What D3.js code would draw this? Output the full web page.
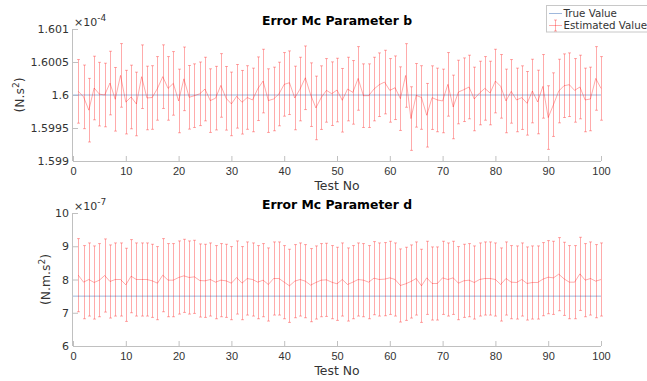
<!DOCTYPE html>
<html><head><meta charset="utf-8">
<script src="https://cdn.jsdelivr.net/npm/d3@7/dist/d3.min.js"></script>
<style>body{margin:0;background:#fff}svg{display:block;font-family:"DejaVu Sans",sans-serif}</style>
</head><body><svg id="c" width="647" height="381"></svg>
<script>
// ---- data (mantissa units) ----
const testNo = d3.range(1, 101);
const xTicks = [0,10,20,30,40,50,60,70,80,90,100];
// Parameter b (x1e-4)
const trueB = 1.6;
const estB = [1.600055,1.599972,1.599770,1.600106,1.600013,1.600000,1.600181,1.599935,1.600297,1.599892,
1.599970,1.599864,1.600277,1.599955,1.599962,1.600100,1.600278,1.600100,1.600176,1.599910,
1.600245,1.599965,1.599990,1.600018,1.600090,1.599915,1.599952,1.600145,1.599950,1.599865,
1.599980,1.599890,1.599962,1.599925,1.600095,1.600211,1.599915,1.599940,1.600015,1.600161,
1.600186,1.599955,1.600090,1.600261,1.600005,1.599804,1.599960,1.600070,1.600020,1.600075,
1.599920,1.600090,1.600040,1.600251,1.599990,1.599990,1.600090,1.600156,1.600196,1.600070,
1.600110,1.599945,1.600296,1.599643,1.599995,1.599962,1.599693,1.599960,1.599925,1.599910,
1.600161,1.599819,1.600045,1.600080,1.600121,1.599940,1.600030,1.600100,1.600030,1.600211,
1.600131,1.599910,1.600055,1.599925,1.599960,1.599874,1.600060,1.599894,1.600131,1.599658,
1.599854,1.600060,1.600141,1.600156,1.600070,1.600121,1.599925,1.599940,1.600251,1.600100];
const errB = 0.000482;
const yTicksB = [1.599,1.5995,1.6,1.6005,1.601];
const yTickLabelsB = ["1.599","1.5995","1.6","1.6005","1.601"];
// Parameter d (x1e-7)
const trueD = 7.5;
const estD = [8.13,7.92,8.00,7.91,7.98,8.12,7.94,8.00,8.00,7.84,
8.10,8.00,8.00,8.00,7.96,7.89,8.13,7.98,7.98,8.06,
8.11,8.06,8.08,7.97,7.96,8.00,7.92,7.98,7.96,7.89,
8.06,7.89,8.03,8.00,7.92,7.98,7.85,8.03,8.03,7.92,
7.81,7.95,8.00,7.95,7.83,7.91,7.98,7.99,7.92,7.87,
8.00,7.85,7.92,8.00,7.98,7.92,8.04,8.00,8.01,8.05,
8.00,7.82,7.87,7.94,8.03,7.81,8.05,7.88,7.88,8.05,
8.00,8.05,7.89,7.96,7.98,7.91,8.00,8.03,8.03,8.00,
7.85,8.03,7.92,7.91,8.00,7.88,7.91,7.91,8.01,8.07,
8.05,8.16,8.02,7.92,7.92,8.17,7.98,8.03,7.95,8.00];
const errD = 1.1;
const yTicksD = [6,7,8,9,10];
const yTickLabelsD = ["6","7","8","9","10"];

const svg = d3.select("#c");
const axisCol = "#c0c0c0", textCol = "#333";
const redCol = "rgba(255,0,0,0.33)", blueCol = "#9fb8dc";
const x = d3.scaleLinear([0,100],[73,601]);

function panel(cfg){
  const y = d3.scaleLinear(cfg.domain, cfg.range);
  const g = svg.append("g");
  // x axis
  const xa = g.append("g").attr("transform",`translate(0,${cfg.range[0]})`)
    .call(d3.axisBottom(x).tickValues(xTicks).tickSize(-5).tickPadding(0).tickFormat(d3.format("d")));
  xa.select(".domain").attr("stroke",axisCol).attr("d",`M${x(0)},0.5H${x(100)}`);
  xa.selectAll(".tick line").attr("stroke",axisCol);
  xa.selectAll(".tick text").attr("fill",textCol).attr("font-size","11px").attr("dy","13.5px").attr("y",0);
  // y axis
  const ya = g.append("g").attr("transform","translate(73,0)")
    .call(d3.axisLeft(y).tickValues(cfg.ticks).tickSize(-5).tickPadding(4).tickFormat((d,i)=>cfg.labels[i]));
  ya.select(".domain").attr("stroke",axisCol).attr("d",`M-0.5,${cfg.range[0]}V${cfg.range[1]}`);
  ya.selectAll(".tick line").attr("stroke",axisCol);
  ya.selectAll(".tick text").attr("fill",textCol).attr("font-size","11px").attr("font-family","DejaVu Sans");
  // exponent
  const ex = g.append("text").attr("x",74).attr("y",cfg.range[1]-3).attr("fill",textCol).attr("font-size","11px");
  ex.append("tspan").text("×10");
  ex.append("tspan").attr("dy","-5").attr("font-size","9px").text(cfg.exp);
  // true value
  g.append("line").attr("x1",x(0)).attr("x2",x(100)).attr("y1",y(cfg.trueV)).attr("y2",y(cfg.trueV))
    .attr("stroke",blueCol).attr("stroke-width",1);
  // error bars
  const eb = g.append("g").attr("stroke",redCol).attr("stroke-width",1).attr("fill","none");
  testNo.forEach((t,i)=>{
    const v = cfg.est[i], px = Math.round(x(t))+0.5;
    const y1 = y(v + cfg.err), y2 = y(v - cfg.err);
    eb.append("path").attr("d",`M${px},${y1}V${y2}M${px-1.5},${y1}H${px+1.5}M${px-1.5},${y2}H${px+1.5}`);
  });
  g.append("path").datum(cfg.est)
    .attr("d",d3.line().x((d,i)=>x(testNo[i])).y(d=>y(d)))
    .attr("fill","none").attr("stroke",redCol).attr("stroke-width",1);
  // titles
  g.append("text").attr("x",337).attr("y",cfg.range[1]-4).attr("text-anchor","middle")
    .attr("font-weight","bold").attr("font-size","12.4px").attr("fill","#000").text(cfg.title);
  g.append("text").attr("x",337).attr("y",cfg.range[0]+28.5).attr("text-anchor","middle")
    .attr("font-size","12.4px").attr("fill",textCol).text("Test No");
  const yl = g.append("text").attr("transform",`translate(${cfg.ylx},${(cfg.range[0]+cfg.range[1])/2}) rotate(-90)`)
    .attr("text-anchor","middle").attr("font-size","12.4px").attr("fill",textCol);
  yl.append("tspan").text(cfg.ylab);
  yl.append("tspan").attr("dy","-5").attr("font-size","9px").text("2");
  yl.append("tspan").attr("dy","5").text(")");
}

panel({domain:[1.599,1.601], range:[161,29], ticks:yTicksB, labels:yTickLabelsB, exp:"-4",
  trueV:trueB, est:estB, err:errB, title:"Error Mc Parameter b", ylab:"(N.s", ylx:24});
panel({domain:[6,10], range:[346,213], ticks:yTicksD, labels:yTickLabelsD, exp:"-7",
  trueV:trueD, est:estD, err:errD, title:"Error Mc Parameter d", ylab:"(N.m.s", ylx:50});

// legend
const lg = svg.append("g");
lg.append("rect").attr("x",546.5).attr("y",5.5).attr("width",110).attr("height",26.5)
  .attr("fill","#fff").attr("stroke","#c8c8c8");
lg.append("line").attr("x1",549).attr("x2",562).attr("y1",13.5).attr("y2",13.5).attr("stroke",blueCol);
lg.append("text").attr("x",563.5).attr("y",17).attr("font-size","10.3px").attr("fill",textCol).text("True Value");
lg.append("path").attr("d","M549,25.5H562M555.5,20V31M554,20H557M554,31H557").attr("stroke",redCol).attr("fill","none");
lg.append("text").attr("x",563.5).attr("y",29).attr("font-size","10.3px").attr("fill",textCol).text("Estimated Value");
</script></body></html>
